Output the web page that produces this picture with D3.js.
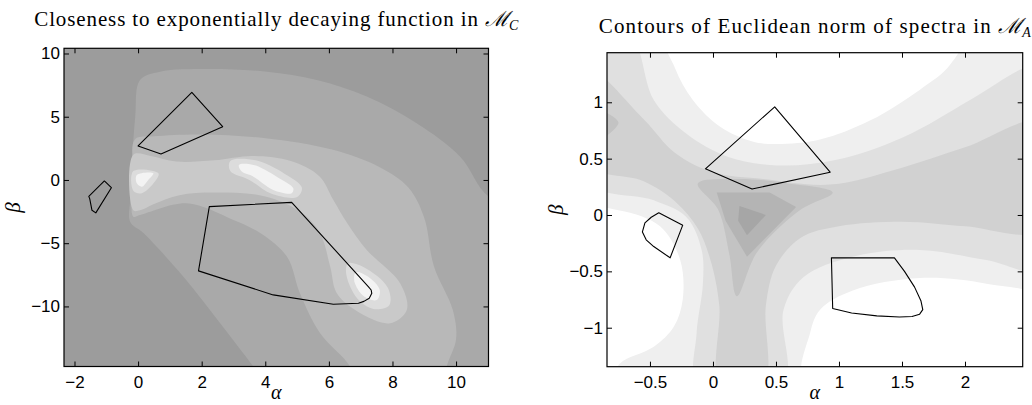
<!DOCTYPE html>
<html>
<head>
<meta charset="utf-8">
<script src="https://cdn.jsdelivr.net/npm/d3@7"></script>
<style>
  body { margin: 0; background: #fff; }
  text { fill: #000; }
</style>
</head>
<body>
<svg></svg>
<script>
// ---- data (alpha, beta) ----
const leftXTicks = [-2, 0, 2, 4, 6, 8, 10];
const leftYTicks = [-10, -5, 0, 5, 10];
const rightXTicks = [-0.5, 0, 0.5, 1, 1.5, 2];
const rightYTicks = [-1, -0.5, 0, 0.5, 1];

// left panel: filled contour regions, from outer to inner
const leftBand1 = [[0.06, 7.9], [0.69, 8.56], [2.16, 8.77], [4.05, 8.56], [5.62, 7.9], [7.19, 6.59], [8.76, 4.48],
  [10.13, 1.84], [11.03, -1.32], [12.5, -2.5], [12.5, -16.5], [4.16, -16.5], [3.63, -14.76], [2.58, -11.33],
  [1.42, -7.64], [0.17, -4.2], [-0.25, -3.3], [-0.25, -1.58], [-0.2, 1.05], [-0.09, 5.0]];
const leftBand2 = [[-0.1, 3.2], [0.5, 3.45], [2.0, 3.6], [4.0, 3.3], [6.1, 2.4], [7.6, 1.0], [8.5, -0.6], [9.0, -3.0],
  [9.3, -6.8], [9.9, -10.3], [10.0, -12.6], [9.7, -14.8], [9.6, -16.5], [6.9, -16.5], [6.67, -14.76], [5.72, -12.1],
  [5.09, -8.96], [4.68, -6.06], [3.84, -4.2], [3.0, -3.16], [1.53, -1.84], [0.06, -2.77], [-0.15, -2.9], [-0.15, 0.5]];
const leftBand3 = [[-0.15, 2.0], [0.4, 1.9], [1.2, 1.45], [2.4, 1.55], [3.6, 1.9], [4.8, 1.5], [5.7, 0.3], [6.14, -1.58],
  [6.6, -3.5], [7.19, -5.53], [8.24, -8.17], [8.45, -10.28], [7.92, -11.33], [6.9, -10.4], [6.25, -8.96], [6.04, -6.85],
  [5.72, -4.2], [5.1, -2.5], [4.0, -1.3], [2.5, -1.0], [1.3, -1.2], [0.5, -1.9], [0.06, -2.4], [-0.15, -2.4]];
const leftSpot1 = [[-0.15, 0.7], [0.64, 0.53], [0.6, 0.13], [0.12, -1.05], [-0.15, -0.85]];
const leftSpot2 = [[2.9, 1.5], [3.7, 1.55], [4.6, 0.5], [5.15, -0.6], [5.0, -1.35], [4.2, -1.1], [3.5, 0.0], [2.9, 0.7]];
const leftSpot3 = [[6.6, -6.6], [7.1, -6.9], [7.85, -8.5], [7.9, -9.9], [7.4, -10.2], [6.9, -9.4], [6.55, -7.5]];
const leftPeak1 = [[-0.04, 0.4], [0.48, 0.53], [0.32, 0], [0.12, -0.53], [-0.04, -0.26]];
const leftPeak2 = [[3.17, 1.19], [3.63, 1.19], [4.36, 0.26], [4.88, -0.66], [4.83, -1.05], [4.25, -0.79], [3.63, 0.26], [3.26, 0.66]];
const leftPeak3 = [[6.85, -7.3], [7.2, -7.6], [7.6, -8.7], [7.5, -9.5], [7.1, -9.2], [6.8, -8.0]];
const leftRegions = [leftBand1, leftBand2, leftBand3, leftSpot1, leftSpot2, leftSpot3, leftPeak1, leftPeak2, leftPeak3];
const leftLevels = [1, 2, 3, 4, 4, 4, 5, 5, 5];

// left panel: outlined sets
const leftSetA = [[1.69, 6.93], [2.66, 4.21], [0.72, 2.06], [0.0, 2.69]];
const leftSetB = [[-1.06, -0.08], [-0.84, -0.61], [-1.33, -2.6], [-1.45, -2.4], [-1.52, -1.5], [-1.55, -1.3]];
const leftSetC = [[2.24, -2.11], [4.83, -1.77], [7.24, -8.43], [7.33, -8.7], [7.35, -8.96], [7.27, -9.35], [7.1, -9.6],
  [6.93, -9.75], [6.14, -9.83], [4.25, -9.09], [1.9, -7.19]];

// right panel: white lobes, then darker nested regions
const rightLobeTop = [[-0.37, 1.6], [-0.3, 1.3], [-0.16, 1.02], [0.06, 0.78], [0.32, 0.65], [0.51, 0.63], [0.85, 0.67],
  [1.25, 0.84], [1.64, 1.11], [1.88, 1.33], [1.98, 1.6]];
const rightLobeLeft = [[-1.0, 0.04], [-0.74, 0.04], [-0.42, -0.10], [-0.26, -0.4], [-0.24, -0.75], [-0.31, -0.99],
  [-0.47, -1.17], [-0.74, -1.32], [-0.82, -1.5], [-1.0, -1.5]];
const rightLobeRight = [[0.73, -1.5], [0.77, -1.05], [0.85, -0.84], [1.11, -0.67], [1.64, -0.56], [2.17, -0.61],
  [2.6, -0.75], [2.6, -1.5]];
const rightBand2 = [[-1.0, 1.6], [-0.66, 1.6], [-0.47, 1.02], [-0.21, 0.72], [0.11, 0.52], [0.51, 0.44], [0.98, 0.49],
  [1.51, 0.69], [2.04, 1.02], [2.44, 1.29], [2.6, 1.35], [2.6, -0.47], [2.17, -0.40], [1.64, -0.31], [1.11, -0.37],
  [0.72, -0.55], [0.56, -0.84], [0.56, -1.5], [-0.12, -1.5], [-0.13, -1.05], [-0.08, -0.61], [-0.09, -0.31],
  [-0.21, -0.02], [-0.47, 0.13], [-1.0, 0.3]];
const rightBand3 = [[-1.0, 1.3], [-0.55, 0.85], [-0.3, 0.55], [0.0, 0.38], [0.4, 0.32], [0.93, 0.27], [1.5, 0.42],
  [2.0, 0.6], [2.6, 0.82], [2.6, -0.13], [2.0, -0.1], [1.5, -0.06], [1.0, -0.1], [0.7, -0.2], [0.5, -0.45],
  [0.42, -0.8], [0.40, -1.5], [0.06, -1.5], [0.05, -0.8], [-0.02, -0.4], [-0.12, -0.12], [-0.3, 0.12], [-0.55, 0.3],
  [-1.0, 0.45]];
const rightBand4a = [[-1.0, 0.95], [-0.75, 0.82], [-1.0, 0.62]];
const rightBand4b = [[-0.12, 0.28], [0.2, 0.32], [0.6, 0.28], [0.95, 0.2], [0.7, 0.05], [0.35, -0.33], [0.19, -0.72],
  [0.13, -0.35], [0.04, 0.05]];
const rightBand5 = [[0.03, 0.2], [0.45, 0.2], [0.66, 0.07], [0.27, -0.37], [0.1, -0.05]];
const rightBand6 = [[0.21, 0.08], [0.42, 0.0], [0.27, -0.18], [0.2, -0.05]];
const rightRegions = [rightLobeTop, rightLobeLeft, rightLobeRight, rightBand2, rightBand3, rightBand4a, rightBand4b, rightBand5, rightBand6];
const rightLevels = [0, 0, 0, 2, 3, 4, 4, 5, 6];

const rightSetA = [[0.49, 0.96], [0.93, 0.38], [0.31, 0.23], [-0.06, 0.41]];
const rightSetB = [[-0.43, 0.02], [-0.24, -0.09], [-0.34, -0.38], [-0.47, -0.28], [-0.53, -0.22], [-0.56, -0.15],
  [-0.54, -0.07], [-0.49, -0.02]];
const rightSetC = [[0.94, -0.38], [1.44, -0.38], [1.52, -0.5], [1.6, -0.64], [1.65, -0.76], [1.665, -0.84], [1.64, -0.88],
  [1.58, -0.9], [1.48, -0.905], [1.3, -0.895], [1.1, -0.87], [0.95, -0.83], [0.945, -0.6]];

// ---- drawing ----
const width = 1032, height = 405;
const svg = d3.select("svg").attr("width", width).attr("height", height);

const leftGrey = ["#9c9c9c", "#a9a9a9", "#b8b8b8", "#c9c9c9", "#dcdcdc", "#f3f3f3"];
const rightGrey = ["#ffffff", "#efefef", "#e0e0e0", "#d1d1d1", "#c3c3c3", "#b4b4b4", "#a6a6a6"];

function panel(o) {
  const x = d3.scaleLinear().domain(o.xDomain).range(o.xRange);
  const y = d3.scaleLinear().domain(o.yDomain).range(o.yRange);
  const g = svg.append("g");

  g.append("clipPath").attr("id", o.id)
    .append("rect")
    .attr("x", o.xRange[0]).attr("y", o.yRange[1])
    .attr("width", o.xRange[1] - o.xRange[0]).attr("height", o.yRange[0] - o.yRange[1]);

  const area = g.append("g").attr("clip-path", `url(#${o.id})`);
  area.append("rect")
    .attr("x", o.xRange[0]).attr("y", o.yRange[1])
    .attr("width", o.xRange[1] - o.xRange[0]).attr("height", o.yRange[0] - o.yRange[1])
    .attr("fill", o.grey[o.base]);

  const smooth = d3.line().x(d => x(d[0])).y(d => y(d[1])).curve(d3.curveCatmullRomClosed.alpha(0.5));
  const straight = d3.line().x(d => x(d[0])).y(d => y(d[1])).curve(d3.curveLinearClosed);

  area.selectAll("path.band")
    .data(o.regions)
    .join("path")
    .attr("class", "band")
    .attr("d", (d, i) => (o.levels[i] >= o.sharpFrom ? straight(d) : smooth(d)))
    .attr("fill", (d, i) => o.grey[o.levels[i]]);

  area.selectAll("path.set")
    .data(o.sets)
    .join("path")
    .attr("class", "set")
    .attr("d", straight)
    .attr("fill", "none")
    .attr("stroke", "#000")
    .attr("stroke-width", 1.1)
    .attr("stroke-linejoin", "round");

  // axes, ticks inward on all four sides
  const font = "'Liberation Sans', Arial, sans-serif";
  const fmt = d => (d < 0 ? "\u2212" + Math.abs(d) : String(d));
  const axes = [
    [d3.axisBottom(x).tickValues(o.xTicks).tickFormat(fmt).tickPadding(9), `translate(0,${o.yRange[0]})`],
    [d3.axisTop(x).tickValues(o.xTicks).tickFormat(""), `translate(0,${o.yRange[1]})`],
    [d3.axisLeft(y).tickValues(o.yTicks).tickFormat(fmt).tickPadding(4), `translate(${o.xRange[0]},0)`],
    [d3.axisRight(y).tickValues(o.yTicks).tickFormat(""), `translate(${o.xRange[1]},0)`]
  ];
  axes.forEach(([ax, t]) => {
    const a = g.append("g").attr("transform", t).call(ax.tickSizeInner(-5).tickSizeOuter(0));
    a.select(".domain").remove();
    a.selectAll("line").attr("stroke", "#000");
    a.selectAll("text").attr("font-family", font).attr("font-size", 17).attr("fill", "#000");
  });

  g.append("rect")
    .attr("x", o.xRange[0]).attr("y", o.yRange[1])
    .attr("width", o.xRange[1] - o.xRange[0]).attr("height", o.yRange[0] - o.yRange[1])
    .attr("fill", "none").attr("stroke", "#000").attr("stroke-width", 1.2);

  const cx = (o.xRange[0] + o.xRange[1]) / 2;
  const cy = (o.yRange[0] + o.yRange[1]) / 2;
  const serif = "'Liberation Serif', 'DejaVu Serif', serif";

  const title = g.append("text")
    .attr("x", cx).attr("y", o.titleY)
    .attr("text-anchor", "middle")
    .attr("font-family", serif).attr("font-size", 21);
  const main = title.append("tspan").text(o.title + " ");
  title.append("tspan").attr("font-family", "'DejaVu Serif', serif").attr("font-style", "italic").text("\u2133");
  title.append("tspan").attr("font-style", "italic").attr("font-size", 14).attr("dy", 4).text(o.sub);
  // widen the Times-like face towards the Computer Modern width of the original
  const extra = o.titleWidth - title.node().getComputedTextLength();
  main.attr("letter-spacing", Math.max(0, extra / (o.title.length + 1)));

  g.append("text")
    .attr("x", cx).attr("y", 399)
    .attr("text-anchor", "middle")
    .attr("font-family", serif).attr("font-style", "italic").attr("font-size", 20)
    .text("\u03b1");

  g.append("text")
    .attr("transform", `translate(${o.betaX},${cy}) rotate(-90)`)
    .attr("text-anchor", "middle")
    .attr("dy", "0.35em")
    .attr("font-family", serif).attr("font-style", "italic").attr("font-size", 21)
    .text("\u03b2");
}

panel({
  id: "clipL",
  xDomain: [-2.33, 11.02], xRange: [64, 488.5],
  yDomain: [-14.75, 10.41], yRange: [366.5, 48.3],
  xTicks: leftXTicks, yTicks: leftYTicks,
  regions: leftRegions, levels: leftLevels, grey: leftGrey, base: 0, sharpFrom: 99,
  sets: [leftSetA, leftSetB, leftSetC],
  title: "Closeness to exponentially decaying function in", sub: "C", titleY: 26, titleWidth: 484, betaX: 13
});

panel({
  id: "clipR",
  xDomain: [-0.841, 2.458], xRange: [607, 1022.7],
  yDomain: [-1.346, 1.44], yRange: [366.7, 52.7],
  xTicks: rightXTicks, yTicks: rightYTicks,
  regions: rightRegions, levels: rightLevels, grey: rightGrey, base: 1, sharpFrom: 5,
  sets: [rightSetA, rightSetB, rightSetC],
  title: "Contours of Euclidean norm of spectra in", sub: "A", titleY: 33, titleWidth: 432, betaX: 556
});
</script>
</body>
</html>
